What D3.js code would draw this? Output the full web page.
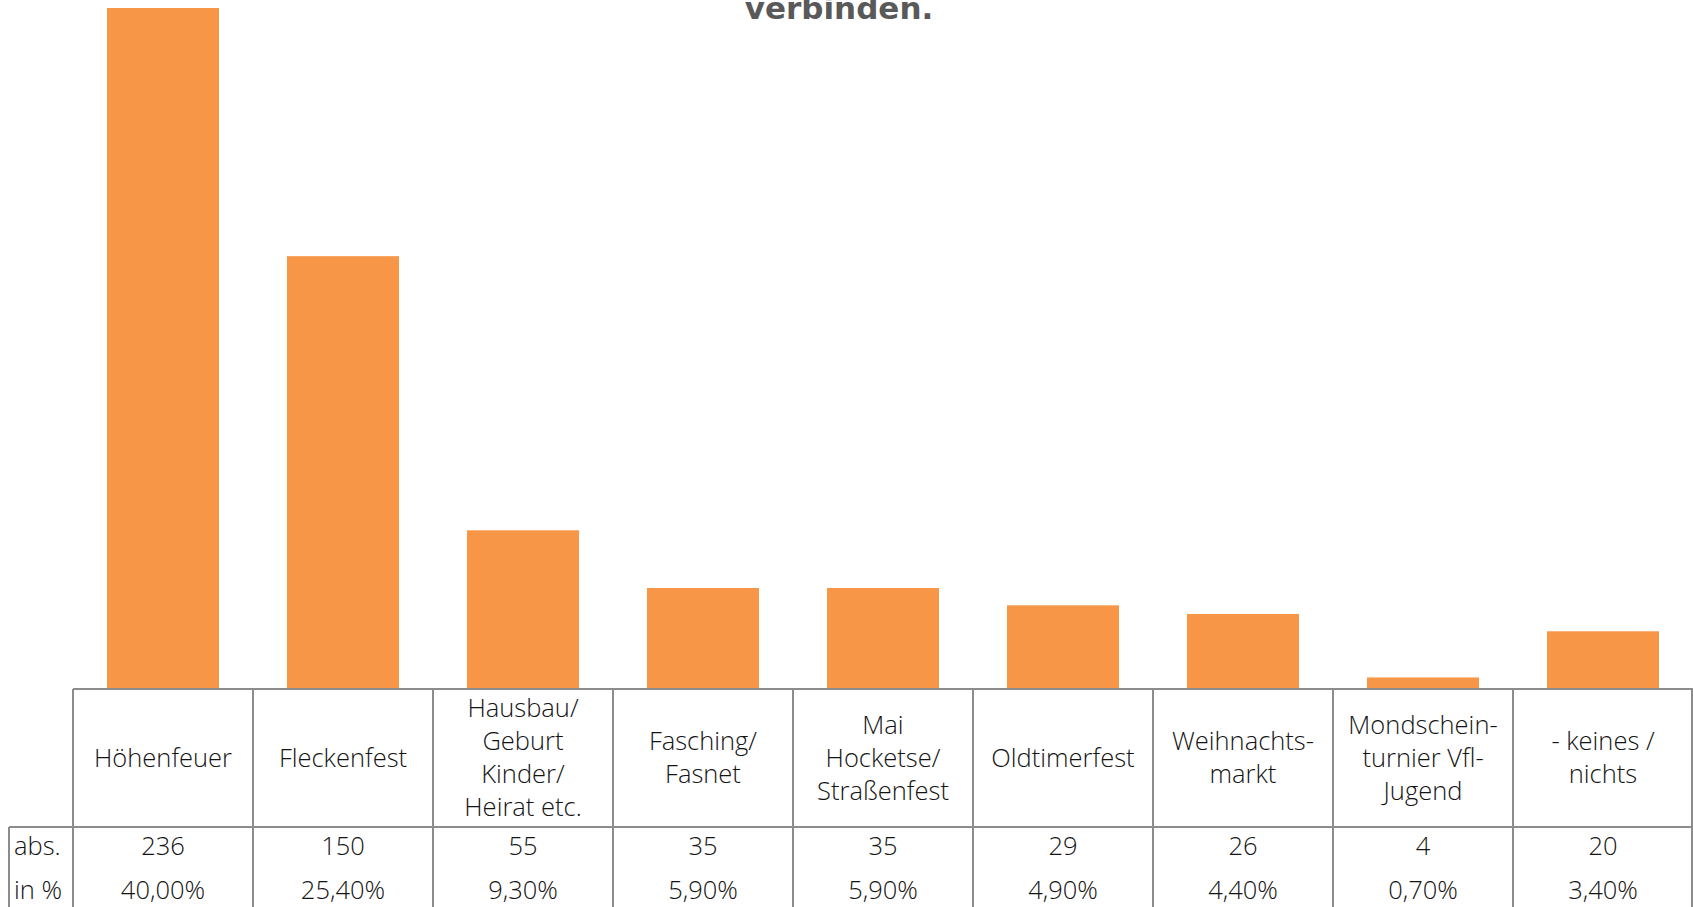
<!DOCTYPE html>
<html>
<head>
<meta charset="utf-8">
<script src="https://cdn.jsdelivr.net/npm/d3@7"></script>
<style>
  html, body { margin: 0; padding: 0; background: #fff; overflow: hidden; }
  svg { display: block; }
</style>
</head>
<body>
<div id="container"></div>
<script>
// data
var categories = [
  ["Höhenfeuer"],
  ["Fleckenfest"],
  ["Hausbau/", "Geburt", "Kinder/", "Heirat etc."],
  ["Fasching/", "Fasnet"],
  ["Mai", "Hocketse/", "Straßenfest"],
  ["Oldtimerfest"],
  ["Weihnachts-", "markt"],
  ["Mondschein-", "turnier Vfl-", "Jugend"],
  ["- keines /", "nichts"]
]
var absValues = [236, 150, 55, 35, 35, 29, 26, 4, 20]
var pctLabels = ["40,00%", "25,40%", "9,30%", "5,90%", "5,90%", "4,90%", "4,40%", "0,70%", "3,40%"]
var rowLabels = ["abs.", "in %"]

var scene_width = 1693, scene_height = 907
var baseY = 689, headerBottom = 827, tableLeft = 73, labelLeft = 9
var lineColor = "#8c8c8c", textColor = "#141414"
var font = "'Open Sans', Lato, sans-serif"
var fontSize = '25.5px'

var svg = d3.select('#container').append('svg')
  .attr('width', scene_width)
  .attr('height', scene_height)

var idx = d3.range(categories.length)

var x = d3.scaleBand()
  .domain(idx)
  .range([tableLeft, scene_width])
  .paddingInner(0.378)
  .paddingOuter(0.189)

var xCol = d3.scaleBand()
  .domain(idx)
  .range([tableLeft, scene_width])

var y = d3.scaleLinear()
  .domain([0, 236])
  .range([baseY, 8])

// title (only its last line is visible)
svg.append('text')
  .attr('x', 839)
  .attr('y', 19)
  .attr('text-anchor', 'middle')
  .style('font-family', "'DejaVu Sans', sans-serif")
  .style('font-weight', 'bold')
  .style('font-size', '31px')
  .style('fill', '#595959')
  .text('verbinden.')

// bars
svg.selectAll('rect.bar')
  .data(idx)
  .enter().append('rect')
  .attr('class', 'bar')
  .attr('x', d => x(d))
  .attr('width', x.bandwidth())
  .attr('y', d => y(absValues[d]))
  .attr('height', d => y(0) - y(absValues[d]))
  .style('fill', '#F79646')

// table grid
var g = svg.append('g')
  .style('stroke', lineColor)
  .style('stroke-width', 2)
  .style('fill', 'none')

g.append('line').attr('x1', tableLeft).attr('x2', scene_width).attr('y1', baseY).attr('y2', baseY)
g.append('line').attr('x1', labelLeft).attr('x2', scene_width).attr('y1', headerBottom).attr('y2', headerBottom)
g.append('line').attr('x1', labelLeft).attr('x2', labelLeft).attr('y1', headerBottom).attr('y2', scene_height)

idx.concat([idx.length]).forEach(function(i) {
  var xx = i < idx.length ? xCol(i) : scene_width - 1
  g.append('line').attr('x1', xx).attr('x2', xx).attr('y1', baseY).attr('y2', scene_height)
})

// header labels
var lineH = 33
idx.forEach(function(i) {
  var lines = categories[i]
  var cx = xCol(i) + xCol.bandwidth() / 2
  var cy = (baseY + headerBottom) / 2
  var t = svg.append('text')
    .attr('text-anchor', 'middle')
    .style('font-family', font)
    .style('font-weight', 300)
    .style('font-size', fontSize)
    .style('fill', textColor)
  lines.forEach(function(l, k) {
    t.append('tspan')
      .attr('x', cx)
      .attr('y', cy + (k - (lines.length - 1) / 2) * lineH)
      .attr('dy', '0.35em')
      .text(l)
  })
})

// value rows
var rowY = [846, 890]
idx.forEach(function(i) {
  var cx = xCol(i) + xCol.bandwidth() / 2
  ;[String(absValues[i]), pctLabels[i]].forEach(function(v, r) {
    svg.append('text')
      .attr('x', cx)
      .attr('y', rowY[r])
      .attr('dy', '0.35em')
      .attr('text-anchor', 'middle')
      .style('font-family', font)
      .style('font-weight', 300)
      .style('font-size', fontSize)
      .style('fill', textColor)
      .text(v)
  })
})

rowLabels.forEach(function(l, r) {
  svg.append('text')
    .attr('x', 14)
    .attr('y', rowY[r])
    .attr('dy', '0.35em')
    .style('font-family', font)
    .style('font-weight', 300)
    .style('font-size', fontSize)
    .style('fill', textColor)
    .text(l)
})
</script>
</body>
</html>
